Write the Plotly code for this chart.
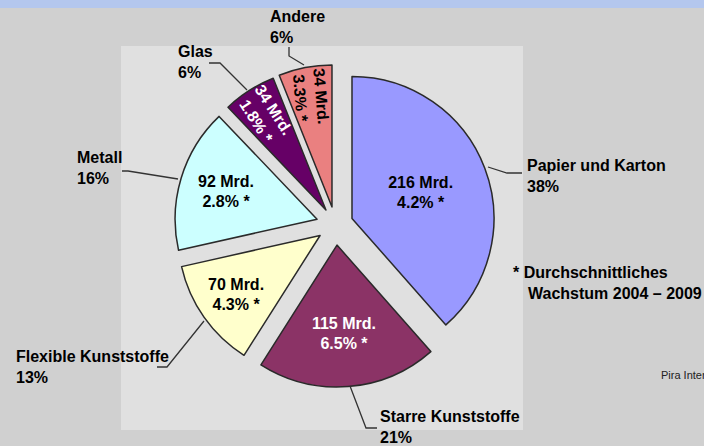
import math
import plotly.graph_objects as go

# ---- data ----
categories = ["Papier und Karton", "Starre Kunststoffe", "Flexible Kunststoffe",
              "Metall", "Glas", "Andere"]
values_mrd = [216, 115, 70, 92, 34, 34]
share_pct = [38, 21, 13, 16, 6, 6]
growth_pct = [4.2, 6.5, 4.3, 2.8, 1.8, 3.3]
footnote = ["* Durchschnittliches", "Wachstum 2004 \u2013 2009"]
source = "Pira International"

# ---- style ----
W, H = 704, 446
L, R, T, B = 121, 523, 46, 430          # inner panel in pixels
colors = ["#9999FF", "#8B3366", "#FFFFCC", "#CCFFFF", "#660066", "#EA8080"]
txt_colors = ["black", "white", "black", "black", "white", "black"]
pulls = [0.125, 0.144, 0.132, 0.135, 0.123, 0.127]
radial = [False, False, False, False, True, True]
FONT = "Liberation Sans, Arial, sans-serif"


def px(x):
    return (x - L) / (R - L)


def py(y):
    return (B - y) / (B - T)


inside = [f"{v} Mrd.<br>{g}% *" for v, g in zip(values_mrd, growth_pct)]

cx, cy, half = 335.4, 224.7, 162.4
dom_x = [px(cx - half), px(cx + half)]
dom_y = [py(cy + half), py(cy - half)]
radius = half / (1 + max(pulls))

fig = go.Figure()
fig.add_trace(go.Pie(
    values=values_mrd, labels=categories, sort=False,
    direction="clockwise", rotation=0, pull=pulls,
    domain=dict(x=dom_x, y=dom_y), textinfo="text",
    textposition="inside", hoverinfo="skip", showlegend=False,
    text=[t if not r else "" for t, r in zip(inside, radial)],
    marker=dict(colors=colors, line=dict(color="#2a2a2a", width=1.5)),
    insidetextorientation="horizontal",
    textfont=dict(family=FONT, size=16, color=txt_colors, weight="bold")))

annotations = []

# radial labels for the two narrow slices, placed along each slice's mid-angle
total = sum(values_mrd)
cum = 0
for i, v in enumerate(values_mrd):
    a0 = cum / total * 360
    cum += v
    a1 = cum / total * 360
    if not radial[i]:
        continue
    mid = math.radians((a0 + a1) / 2)
    dx, dy = math.sin(mid), -math.cos(mid)
    r = radius * (pulls[i] + 0.79)
    annotations.append(dict(
        xref="paper", yref="paper", x=px(cx + dx * r), y=py(cy + dy * r),
        xanchor="center", yanchor="middle", showarrow=False,
        textangle=math.degrees(mid) - 270 + (6 if i == 5 else 0),
        text=inside[i],
        font=dict(family=FONT, size=16, color=txt_colors[i], weight="bold")))

# outside labels: (left x, centre y) in pixels, leader line points
label_pos = {
    "Papier und Karton": (525, 175.5, [(488, 167), (507, 173), (522, 173)]),
    "Starre Kunststoffe": (378, 427, [(350, 386), (366, 428), (377, 428)]),
    "Flexible Kunststoffe": (14, 367, [(204, 321), (167, 367), (157, 367)]),
    "Metall": (75, 167.5, [(178, 179), (128, 171), (122, 171)]),
    "Glas": (176, 61.5, [(247, 90), (220, 63), (209, 63)]),
    "Andere": (268, 26.5, [(304, 65), (289, 56), (289, 47)]),
}

shapes = [
    dict(type="rect", xref="paper", yref="paper", x0=0, x1=1, y0=0, y1=1,
         fillcolor="#E0E0E0", line=dict(width=0), layer="below"),
    dict(type="rect", xref="paper", yref="paper", x0=px(0), x1=px(W),
         y0=py(8), y1=py(0), fillcolor="#B4C7EE", line=dict(width=0),
         layer="below"),
]
for cat, pct in zip(categories, share_pct):
    x, y, pts = label_pos[cat]
    annotations.append(dict(
        xref="paper", yref="paper", x=px(x), y=py(y), xanchor="left",
        yanchor="middle", align="left", showarrow=False,
        text=f"<b>{cat}<br>{pct}%</b>",
        font=dict(family=FONT, size=16, color="black")))
    path = "M " + " L ".join(f"{px(a)},{py(b)}" for a, b in pts)
    shapes.append(dict(type="path", xref="paper", yref="paper", path=path,
                       line=dict(color="#333333", width=1.3)))

annotations.append(dict(xref="paper", yref="paper", x=px(511), y=py(272),
                        xanchor="left", yanchor="middle", showarrow=False,
                        text=f"<b>{footnote[0]}</b>",
                        font=dict(family=FONT, size=16, color="black")))
annotations.append(dict(xref="paper", yref="paper", x=px(526), y=py(293),
                        xanchor="left", yanchor="middle", showarrow=False,
                        text=f"<b>{footnote[1]}</b>",
                        font=dict(family=FONT, size=16, color="black")))
annotations.append(dict(xref="paper", yref="paper", x=px(659), y=py(375),
                        xanchor="left", yanchor="middle", showarrow=False,
                        text=source,
                        font=dict(family=FONT, size=11, color="#222222")))

fig.update_layout(
    width=W, height=H,
    margin=dict(l=L, r=W - R, t=T, b=H - B, pad=0),
    paper_bgcolor="#D0D0D0",
    plot_bgcolor="#E0E0E0",
    annotations=annotations,
    shapes=shapes,
)

fig.write_html("out.html",
               config={"displayModeBar": False},
               post_script="document.body.style.margin='0px';"
                           "document.body.style.overflow='hidden';")
